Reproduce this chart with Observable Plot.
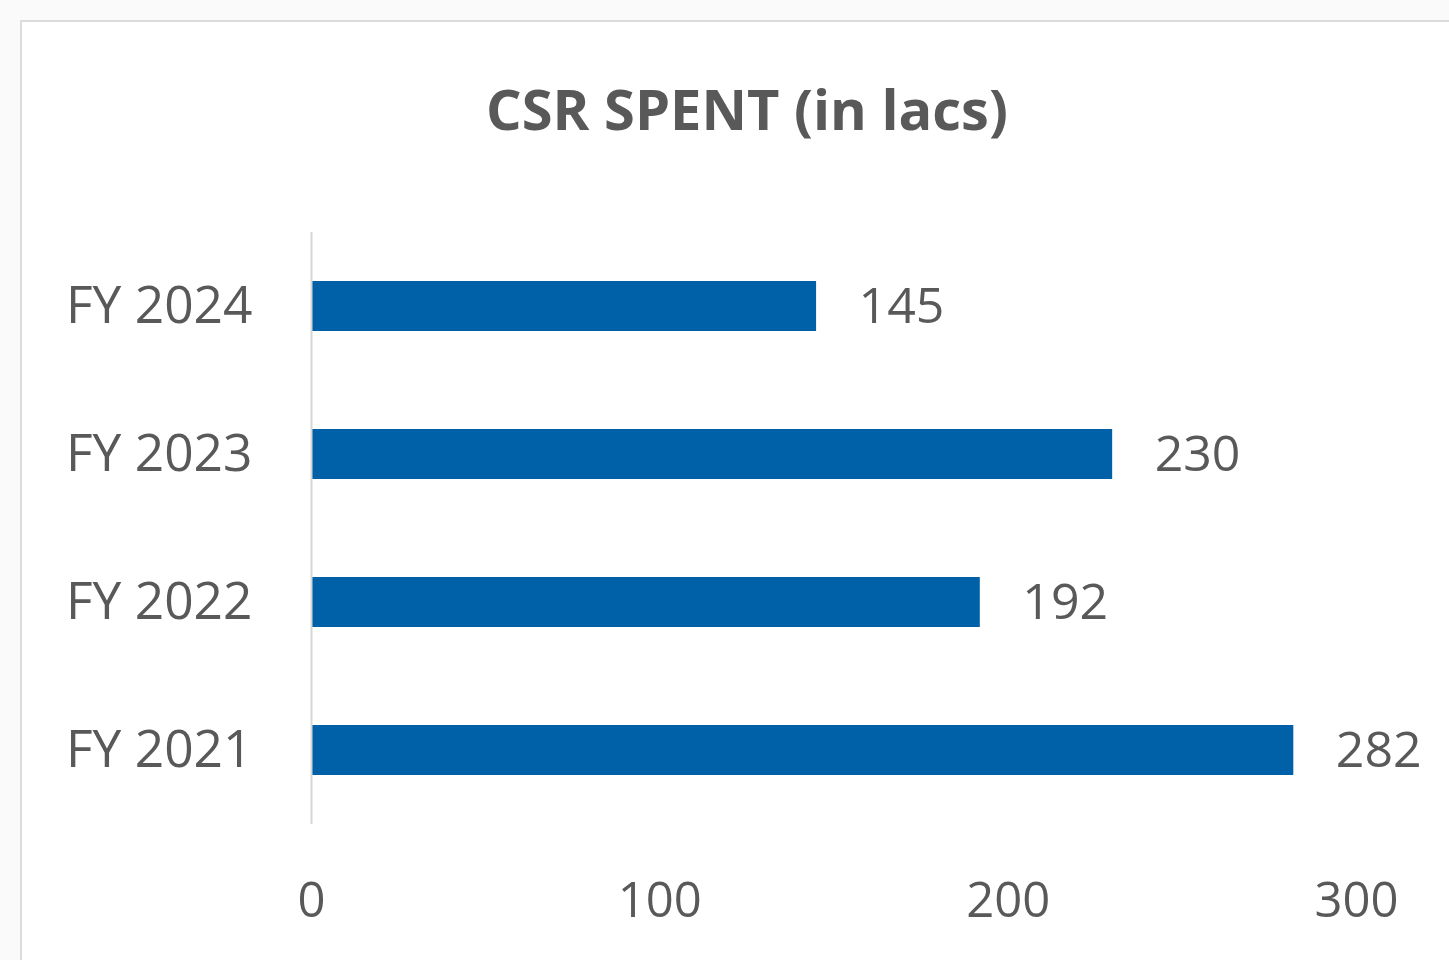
<!DOCTYPE html>
<html>
<head>
<meta charset="utf-8">
<script src="https://cdn.jsdelivr.net/npm/d3@7"></script>
<script src="https://cdn.jsdelivr.net/npm/@observablehq/plot@0.6"></script>
<style>
  html, body { margin: 0; padding: 0; background: #fafafa; overflow: hidden; width: 1449px; height: 960px; }
  #frame { position: absolute; left: 20px; top: 20px; width: 1500px; height: 1000px; background: #fff; border: 2px solid #dcdcdc; }
  #wrap { position: absolute; left: 0; top: 0; width: 1449px; height: 960px; }
  #title { position: absolute; left: 0; top: 80px; width: 1494px; text-align: center; font-family: "Open Sans", sans-serif; font-weight: 700; font-size: 56px; color: #595959; line-height: 1; }
  #chart { position: absolute; left: 0; top: 0; }
</style>
</head>
<body>
<div id="frame"></div>
<div id="wrap">
  <div id="chart"></div>
  <div id="title">CSR SPENT (in lacs)</div>
</div>
<script>
const years = ["FY 2024", "FY 2023", "FY 2022", "FY 2021"];
const spent = [145, 230, 192, 282];
const xTicks = [0, 100, 200, 300];

const data = years.map((year, i) => ({year, value: spent[i]}));

const textColor = "#595959";
const barColor = "#0060a8";

const plot = Plot.plot({
  width: 1449,
  height: 960,
  marginLeft: 311,
  marginRight: 93,
  marginTop: 232,
  marginBottom: 136,
  style: {fontFamily: "'Open Sans', sans-serif", fontSize: "49px", color: textColor, background: "transparent", overflow: "visible"},
  x: {domain: [0, 300], ticks: xTicks, label: null},
  y: {domain: years, paddingInner: 0.66, paddingOuter: 0.33, label: null},
  marks: [
    Plot.barX(data, {x: "value", y: "year", fill: barColor}),
    Plot.ruleX([0], {stroke: "#d6d6d6", strokeWidth: 2}),
    Plot.text(data, {x: "value", y: "year", text: d => String(d.value), textAnchor: "start", dx: 42, fill: textColor, fontSize: 50}),
    Plot.axisX({ticks: xTicks, tickSize: 0, tickPadding: 58, fontSize: 49, fill: textColor, label: null}),
    Plot.axisY({tickSize: 0, tickPadding: 59, fontSize: 51.5, fill: textColor, label: null})
  ]
});
document.getElementById("chart").appendChild(plot);
</script>
</body>
</html>
